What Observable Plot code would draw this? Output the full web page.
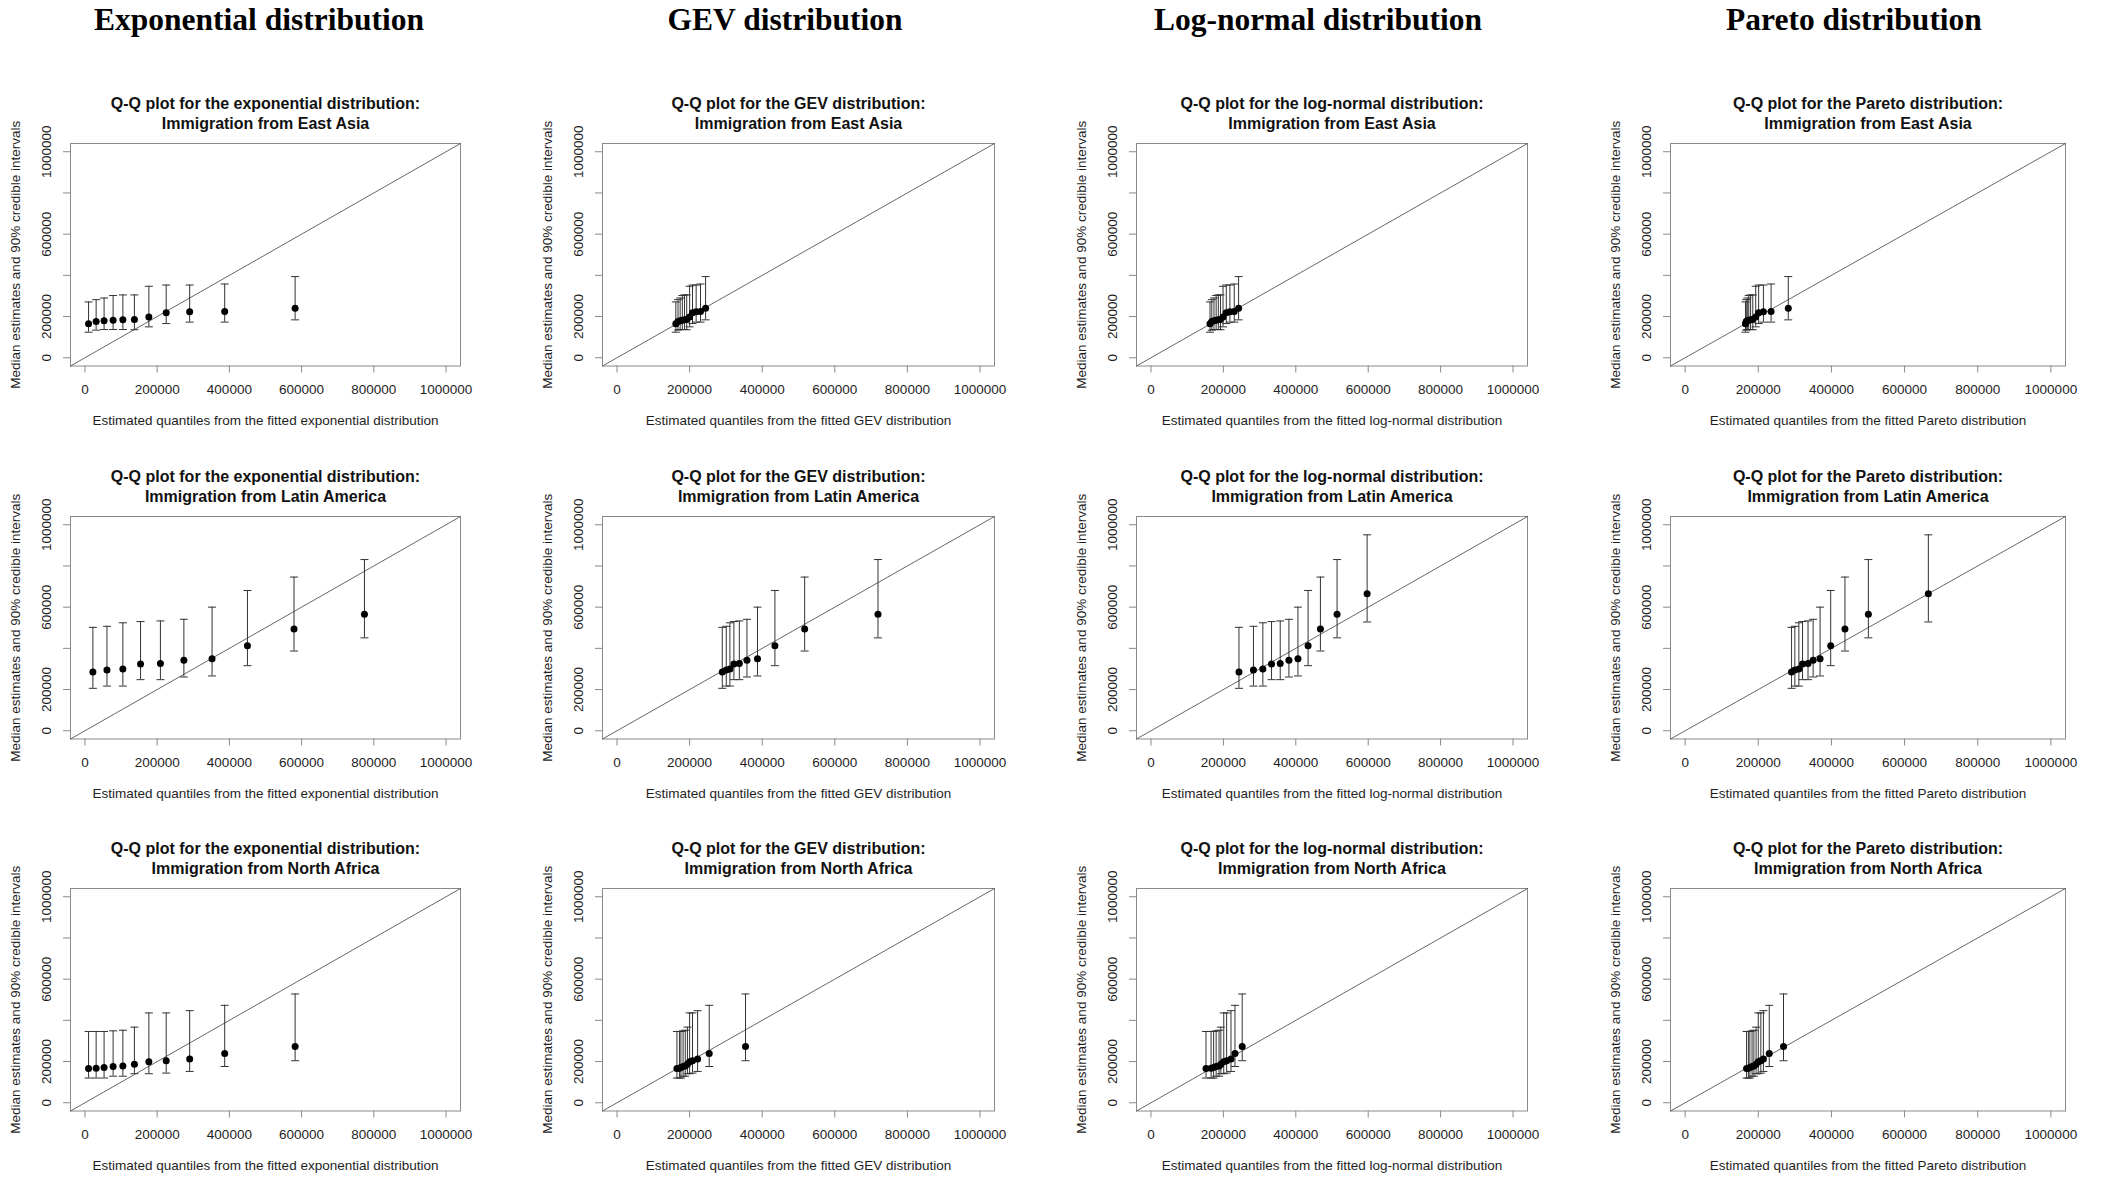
<!DOCTYPE html>
<html>
<head>
<meta charset="utf-8">
<script src="https://cdn.jsdelivr.net/npm/d3@7"></script>
<script src="https://cdn.jsdelivr.net/npm/@observablehq/plot@0.6"></script>
<style>
  html, body { margin: 0; padding: 0; background: #fff; overflow: hidden; }
  #page { position: relative; width: 2101px; height: 1178px; background: #fff; }
  .head {
    position: absolute; top: 4px; transform: translateX(-50%);
    font-family: "Liberation Serif", "DejaVu Serif", serif; font-weight: bold;
    font-size: 31.5px; line-height: 31px; white-space: nowrap; color: #000;
  }
  .panel { position: absolute; }
</style>
</head>
<body>
<div id="page"></div>
<script>
// Column headers and distribution names
const headers = ["Exponential distribution", "GEV distribution", "Log-normal distribution", "Pareto distribution"];
const distNames = ["exponential", "GEV", "log-normal", "Pareto"];
const regions = ["East Asia", "Latin America", "North Africa"];

// Axis ticks (both axes share the same 0 – 1,000,000 range)
const xTicks = [0, 200000, 400000, 600000, 800000, 1000000];
const yTicks = [0, 200000, 400000, 600000, 800000, 1000000];
const yTickLabels = [0, 200000, 600000, 1000000];
const axisDomain = [-40000, 1040000];

// Median estimates and 90% credible intervals, per region (sorted)
const eastAsiaMedian = [165000, 176000, 180000, 182000, 185000, 186000, 198000, 218000, 223000, 224000, 240000];
const eastAsiaLower  = [124000, 134000, 137000, 137000, 137000, 136000, 150000, 166000, 173000, 173000, 184000];
const eastAsiaUpper  = [271000, 282000, 290000, 302000, 305000, 305000, 347000, 353000, 353000, 358000, 394000];

const latinMedian = [285000, 295000, 300000, 324000, 326000, 342000, 350000, 413000, 494000, 566000, 665000];
const latinLower  = [206000, 217000, 217000, 248000, 248000, 261000, 266000, 316000, 387000, 451000, 528000];
const latinUpper  = [502000, 507000, 524000, 530000, 533000, 541000, 600000, 681000, 746000, 831000, 951000];

const northAfricaMedian = [166000, 168000, 171000, 176000, 178000, 187000, 199000, 204000, 213000, 239000, 273000];
const northAfricaLower  = [120000, 120000, 120000, 129000, 129000, 141000, 141000, 144000, 152000, 176000, 204000];
const northAfricaUpper  = [346000, 346000, 346000, 349000, 352000, 367000, 436000, 436000, 447000, 473000, 528000];

// Estimated quantiles from each fitted distribution
const eastAsiaExp     = [10000, 31000, 53000, 78000, 105000, 137000, 177000, 225000, 290000, 387000, 582000];
const eastAsiaGEV     = [162000, 168000, 174000, 180000, 186000, 192000, 200000, 208000, 218000, 230000, 244000];
const eastAsiaLogN    = [163000, 168000, 174000, 180000, 186000, 192000, 199000, 208000, 218000, 230000, 242000];
const eastAsiaPareto  = [165000, 167000, 170000, 174000, 179000, 185000, 193000, 201000, 214000, 235000, 282000];

const latinExp    = [22000, 61000, 105000, 154000, 209000, 274000, 352000, 450000, 579000, 774000];
const latinGEV    = [290000, 301000, 311000, 322000, 337000, 358000, 387000, 435000, 517000, 719000];
const latinLogN   = [243000, 283000, 309000, 333000, 357000, 381000, 406000, 434000, 468000, 514000, 597000];
const latinPareto = [291000, 300000, 311000, 321000, 336000, 350000, 369000, 398000, 437000, 501000, 665000];

const northAfricaExp    = [10000, 31000, 53000, 78000, 105000, 137000, 177000, 225000, 290000, 387000, 582000];
const northAfricaGEV    = [165000, 172000, 176000, 182000, 188000, 194000, 200000, 208000, 222000, 254000, 354000];
const northAfricaLogN   = [152000, 166000, 173000, 180000, 188000, 193000, 201000, 209000, 221000, 232000, 252000];
const northAfricaPareto = [168000, 173000, 177000, 183000, 188000, 194000, 200000, 207000, 214000, 230000, 269000];

const regionEstimates = [
  {median: eastAsiaMedian, lower: eastAsiaLower, upper: eastAsiaUpper},
  {median: latinMedian, lower: latinLower, upper: latinUpper},
  {median: northAfricaMedian, lower: northAfricaLower, upper: northAfricaUpper}
];
const quantiles = [
  [eastAsiaExp, eastAsiaGEV, eastAsiaLogN, eastAsiaPareto],
  [latinExp, latinGEV, latinLogN, latinPareto],
  [northAfricaExp, northAfricaGEV, northAfricaLogN, northAfricaPareto]
];

// Panel grid geometry (plot frame of each panel)
const frameLeft = [69.5, 602.2, 1135.5, 1670.3];
const frameWidth = [390, 392, 391, 395];
const frameTop = [143.4, 516.1, 887.8];
const frameHeight = 222.5;
const mL = 70, mR = 10, mT = 60, mB = 66;
const headerCenter = [259, 785, 1318, 1854];

// Horizontal cap used at both ends of each credible interval
const capSymbol = {
  draw(context, size) {
    const r = Math.sqrt(size / Math.PI);
    context.moveTo(-r, 0);
    context.lineTo(r, 0);
  }
};

const refLine = axisDomain;
const axisGrey = "#8a8a8a";
const textColor = "#1e1e1e";

function qqPanel(row, col) {
  const est = regionEstimates[row];
  const xs = quantiles[row][col];
  const rows = xs.map((q, i) => ({q, med: est.median[i], lo: est.lower[i], hi: est.upper[i]}));
  const fw = frameWidth[col];
  return Plot.plot({
    width: mL + fw + mR,
    height: mT + frameHeight + mB,
    marginLeft: mL, marginRight: mR, marginTop: mT, marginBottom: mB,
    x: {domain: axisDomain},
    y: {domain: axisDomain},
    style: {fontFamily: "'Liberation Sans', Arial, sans-serif", background: "transparent", overflow: "visible"},
    marks: [
      Plot.frame({stroke: axisGrey}),
      Plot.line(refLine, {x: d => d, y: d => d, stroke: "#555", strokeWidth: 0.9}),
      Plot.axisX(xTicks, {anchor: "bottom", tickSize: 7, tickPadding: 11, fontSize: 13.5, tickFormat: d => String(d), stroke: axisGrey, fill: textColor, label: null}),
      Plot.axisY(yTicks, {anchor: "left", tickSize: 7, tickFormat: () => "", stroke: axisGrey, label: null}),
      Plot.text(yTickLabels, {frameAnchor: "left", y: d => d, text: d => String(d), rotate: -90, textAnchor: "middle", dx: -24, fontSize: 13.5, fill: textColor}),
      Plot.text(["Median estimates and 90% credible intervals"], {frameAnchor: "left", text: d => d, rotate: -90, textAnchor: "middle", dx: -55, fontSize: 13.5, fill: textColor}),
      Plot.text([`Estimated quantiles from the fitted ${distNames[col]} distribution`], {frameAnchor: "bottom", text: d => d, dy: 58.5, fontSize: 13.5, fill: textColor}),
      Plot.text([`Q-Q plot for the ${distNames[col]} distribution:`], {frameAnchor: "top", text: d => d, dy: -46, fontSize: 16, fontWeight: "bold", fill: "#111"}),
      Plot.text([`Immigration from ${regions[row]}`], {frameAnchor: "top", text: d => d, dy: -26, fontSize: 16, fontWeight: "bold", fill: "#111"}),
      Plot.ruleX(rows, {x: "q", y1: "lo", y2: "hi", stroke: "#333", strokeWidth: 1}),
      Plot.dot(rows, {x: "q", y: "hi", symbol: capSymbol, r: 4, stroke: "#333", fill: "none", strokeWidth: 1}),
      Plot.dot(rows, {x: "q", y: "lo", symbol: capSymbol, r: 4, stroke: "#333", fill: "none", strokeWidth: 1}),
      Plot.dot(rows, {x: "q", y: "med", r: 3.5, fill: "#000", stroke: "none"})
    ]
  });
}

const page = document.getElementById("page");
headers.forEach((h, c) => {
  const d = document.createElement("div");
  d.className = "head";
  d.style.left = headerCenter[c] + "px";
  d.textContent = h;
  page.appendChild(d);
});
for (let r = 0; r < regions.length; ++r) {
  for (let c = 0; c < distNames.length; ++c) {
    const wrap = document.createElement("div");
    wrap.className = "panel";
    wrap.style.left = (frameLeft[c] - mL) + "px";
    wrap.style.top = (frameTop[r] - mT) + "px";
    wrap.appendChild(qqPanel(r, c));
    page.appendChild(wrap);
  }
}
</script>
</body>
</html>
